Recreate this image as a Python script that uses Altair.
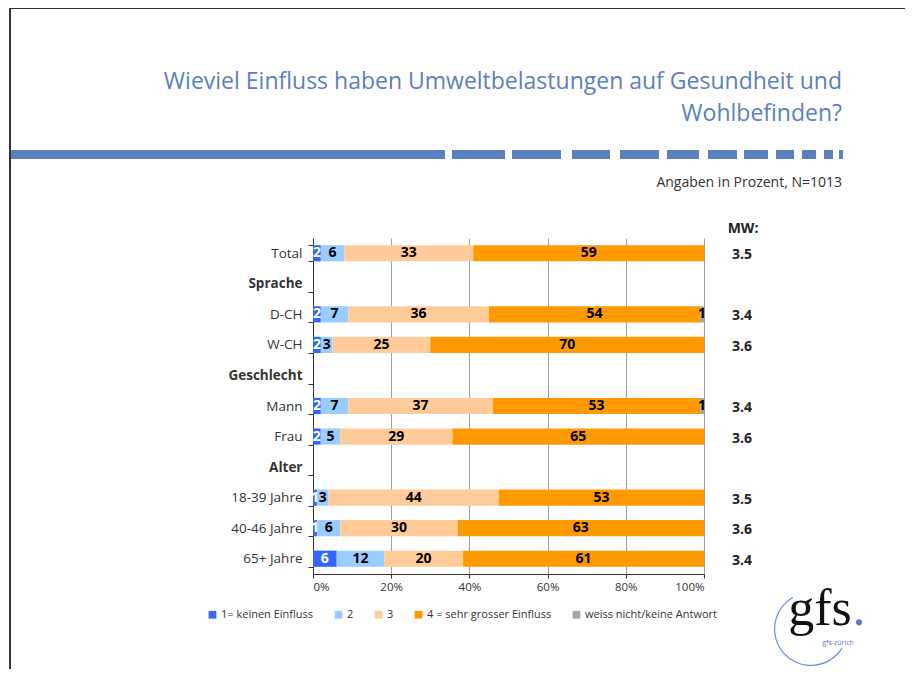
import altair as alt
import pandas as pd

FONT = "Open Sans"

rows = ["Total", "Sprache", "D-CH", "W-CH", "Geschlecht", "Mann", "Frau",
        "Alter", "18-39 Jahre", "40-46 Jahre", "65+ Jahre"]
headers = ["Sprache", "Geschlecht", "Alter"]
groups = ["Total", "D-CH", "W-CH", "Mann", "Frau", "18-39 Jahre", "40-46 Jahre", "65+ Jahre"]
answers = ["1= keinen Einfluss", "2", "3", "4 = sehr grosser Einfluss", "weiss nicht/keine Antwort"]
v1 = [2, 2, 2, 2, 2, 1, 1, 6]
v2 = [6, 7, 3, 7, 5, 3, 6, 12]
v3 = [33, 36, 25, 37, 29, 44, 30, 20]
v4 = [59, 54, 70, 53, 65, 53, 63, 61]
vx = [0, 1, 0, 1, 0, 0, 0, 0]
mw = ["3.5", "3.4", "3.6", "3.4", "3.6", "3.5", "3.6", "3.4"]
colors = ["#3366ff", "#99ccff", "#ffcc99", "#ff9900", "#a6a6a6"]

title_lines = ["Wieviel Einfluss haben Umweltbelastungen auf Gesundheit und", "Wohlbefinden?"]
subtitle = "Angaben in Prozent, N=1013"

recs = []
for gi, g in enumerate(groups):
    for ai, (a, vals) in enumerate(zip(answers, [v1, v2, v3, v4, vx])):
        recs.append({"group": g, "answer": a, "idx": ai, "value": vals[gi]})
df = pd.DataFrame(recs)
mwdf = pd.DataFrame({"group": groups, "mw": mw})

yscale = alt.Scale(domain=rows, paddingInner=0.47, paddingOuter=0.235)
head_expr = "indexof(" + str(headers) + ", datum.value) >= 0 ? 'bold' : 'normal'"

base = alt.Chart(df)
bars = base.mark_bar().encode(
    y=alt.Y("group:N", scale=yscale, sort=rows, axis=alt.Axis(
        title=None, labelFont=FONT, labelFontSize=13.5, labelColor="#333",
        labelFontWeight={"expr": head_expr}, tickBand="extent", tickSize=5,
        tickColor="#333", domainColor="#333", labelPadding=6)),
    x=alt.X("value:Q", stack="normalize", scale=alt.Scale(domain=[0, 1]),
            axis=alt.Axis(title=None, format="%", values=[0, 0.2, 0.4, 0.6, 0.8, 1.0],
                          grid=True, gridColor="#a0a0a0", tickSize=4, tickColor="#333",
                          domainColor="#333", labelFont=FONT, labelFontSize=11.5,
                          labelColor="#333", labelPadding=3)),
    color=alt.Color("answer:N", scale=alt.Scale(domain=answers, range=colors),
                    legend=alt.Legend(title=None, orient="none", legendX=-106, legendY=371,
                                      direction="horizontal", symbolType="square",
                                      symbolSize=60, symbolStrokeWidth=0, labelFont=FONT,
                                      labelFontSize=11, labelColor="#333",
                                      columnPadding=19, labelOffset=3, padding=0)),
    order=alt.Order("idx:Q"),
)

labels = base.transform_stack(
    stack="value", groupby=["group"], as_=["s0", "s1"], offset="normalize",
    sort=[alt.SortField("idx")]
).transform_calculate(mid="(datum.s0 + datum.s1) / 2").transform_filter(
    "datum.value > 0"
).mark_text(font=FONT, fontSize=14, fontWeight="bold").encode(
    y=alt.Y("group:N", scale=yscale, sort=rows),
    x=alt.X("mid:Q"),
    text=alt.Text("value:Q"),
    color=alt.condition("datum.idx == 0", alt.value("white"), alt.value("black")),
)

mwtext = alt.Chart(mwdf).mark_text(font=FONT, fontSize=14, fontWeight="bold", dy=2,
                                   color="#222").encode(
    y=alt.Y("group:N", scale=yscale, sort=rows),
    x=alt.value(429),
    text="mw:N",
)

one = pd.DataFrame({"a": [0]})

def txt(s, x, y, size, color="#333", weight="normal", align="center", font=FONT, baseline="middle"):
    return alt.Chart(pd.DataFrame({"t": [s]})).mark_text(
        font=font, fontSize=size, color=color, fontWeight=weight, align=align,
        baseline=baseline).encode(x=alt.value(x), y=alt.value(y), text="t:N")

deco = [
    txt(title_lines[0], 529, -156, 23, color="#5b80c0", align="right"),
    txt(title_lines[1], 529, -124, 23, color="#5b80c0", align="right"),
    txt(subtitle, 529, -55, 14, align="right"),
    txt("MW:", 430, -9, 14, color="#222", weight="bold"),
    txt("gfs", 507, 387, 52, color="#111", font="Liberation Serif", baseline="alphabetic"),
    txt(".", 546, 387, 52, color="#5b80c0", font="Liberation Serif", baseline="alphabetic"),
    txt("gfs-zürich", 525, 405, 7, color="#5b80c0"),
]

segs = [(10, 445), (452, 505), (512, 561), (572, 610), (620, 659), (667, 699),
        (708, 737), (744, 768), (776, 794), (802, 816), (824, 833), (839, 843)]
for a, b in segs:
    deco.append(alt.Chart(one).mark_rect(color="#5a80bd").encode(
        x=alt.value(a - 313), x2=alt.value(b - 313), y=alt.value(-88), y2=alt.value(-79)))

deco.append(alt.Chart(one).mark_rule(color="#333", strokeWidth=2).encode(
    x=alt.value(-303), y=alt.value(-230), y2=alt.value(445)))
deco.append(alt.Chart(one).mark_rule(color="#333", strokeWidth=2).encode(
    x=alt.value(-304), x2=alt.value(600), y=alt.value(-230)))
deco.append(alt.Chart(one).mark_arc(color="#6b8fd6", theta=2.13, theta2=5.76,
                                    radius=37, radius2=35.8).encode(
    x=alt.value(498), y=alt.value(391)))

chart = alt.layer(bars, labels, mwtext, *deco).properties(
    width=391, height=336,
    autosize=alt.AutoSizeParams(type="none"),
    padding={"left": 305, "top": 230, "right": 201, "bottom": 95},
).configure_view(stroke=None)

chart.save("out.html", embed_options={"renderer": "svg", "actions": False})
